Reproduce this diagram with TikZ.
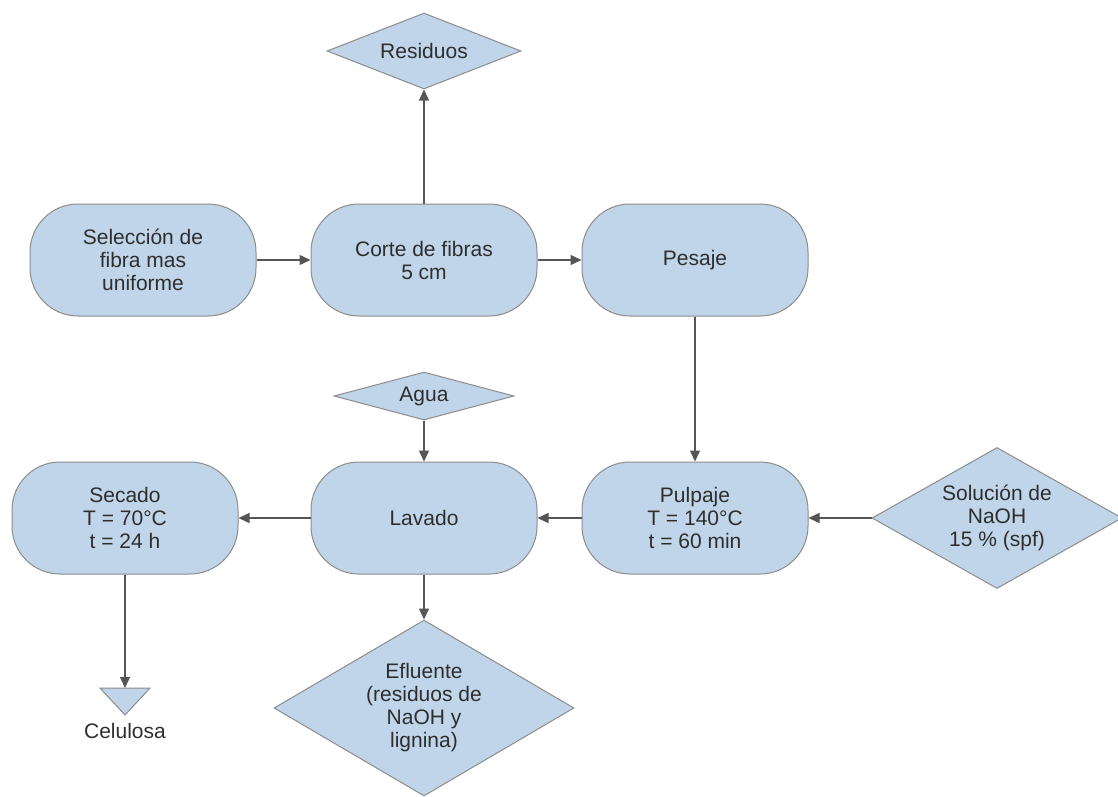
\documentclass[tikz,border=0pt]{standalone}
\usepackage{fontspec}
\setmainfont{Liberation Sans}
\usetikzlibrary{shapes.geometric,arrows.meta}
\definecolor{boxfill}{HTML}{C0D5E9}
\definecolor{boxline}{HTML}{8C8C8C}
\definecolor{arr}{HTML}{555555}
\definecolor{txtc}{HTML}{2E2E2E}
\begin{document}
\begin{tikzpicture}[x=1pt,y=-1pt,
  every node/.style={font=\fontsize{21}{23}\selectfont, text=txtc},
  proc/.style={draw=boxline, fill=boxfill, line width=1pt, rounded corners=48pt,
    minimum width=226pt, minimum height=112pt, align=center, inner sep=0pt},
  dia/.style={draw=boxline, fill=boxfill, line width=1pt, diamond, inner sep=0pt},
  flow/.style={draw=arr, line width=1.3pt, -{Triangle[length=11pt,width=10pt]}}
]
\useasboundingbox (0,0) rectangle (1118,796);

% process boxes
\node[proc] (sel) at (143,260) {Selección de\\fibra mas\\uniforme};
\node[proc] (corte) at (424,260) {Corte de fibras\\5 cm};
\node[proc] (pes) at (695,260) {Pesaje};
\node[proc] (sec) at (125,518) {Secado\\T = 70°C\\t = 24 h};
\node[proc] (lav) at (424,518) {Lavado};
\node[proc] (pul) at (695,518) {Pulpaje\\T = 140°C\\t = 60 min};

% diamonds
\node[dia, minimum width=194pt, minimum height=76pt,
  label={center:Residuos}] (res) at (424,51) {};
\node[dia, minimum width=180pt, minimum height=48pt,
  label={center:Agua}] (agua) at (424,396) {};
\node[dia, minimum width=250pt, minimum height=141pt,
  label={[align=center]center:Solución de\\NaOH\\15 \% (spf)}] (sol) at (997,518) {};
\node[dia, minimum width=300pt, minimum height=176pt,
  label={[align=center]center:Efluente\\(residuos de\\NaOH y\\lignina)}] (efl) at (424,708) {};

% storage triangle
\draw[draw=boxline, fill=boxfill, line width=1pt] (100,688) -- (150,688) -- (125,715) -- cycle;
\coordinate (celtop) at (125,688);
\node (cel) at (125,731) {Celulosa};

% connectors
\draw[flow] (sel) -- (corte);
\draw[flow] (corte) -- (pes);
\draw[flow] (corte.north) -- (res.south);
\draw[flow] (pes.south) -- (pul.north);
\draw[flow] (sol.west) -- (pul.east);
\draw[flow] (pul.west) -- (lav.east);
\draw[flow] (lav.west) -- (sec.east);
\draw[flow] (agua.south) -- (lav.north);
\draw[flow] (lav.south) -- (efl.north);
\draw[flow] (sec.south) -- (celtop);
\end{tikzpicture}
\end{document}
